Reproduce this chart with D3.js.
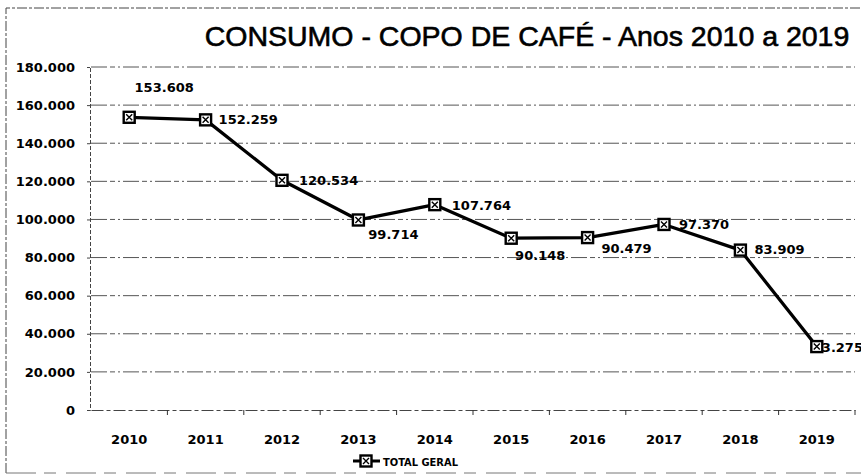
<!DOCTYPE html>
<html><head><meta charset="utf-8">
<script src="https://cdn.jsdelivr.net/npm/d3@7"></script>
<style>body{margin:0;background:#fff}svg{display:block}</style>
</head><body>
<svg id="c" width="861" height="475"></svg>
<script>
const years = ["2010","2011","2012","2013","2014","2015","2016","2017","2018","2019"];
const totalGeral = [153608,152259,120534,99714,107764,90148,90479,97370,83909,33275];
const valueLabels = ["153.608","152.259","120.534","99.714","107.764","90.148","90.479","97.370","83.909","33.275"];
const yTicks = [0,20000,40000,60000,80000,100000,120000,140000,160000,180000];
const yTickLabels = ["0","20.000","40.000","60.000","80.000","100.000","120.000","140.000","160.000","180.000"];
const title = "CONSUMO - COPO DE CAFÉ - Anos 2010 a 2019";
const seriesName = "TOTAL GERAL";
// label placement (style): dx, dy, anchor
const labelPos = [[35,-25,"middle"],[13,4,"start"],[17,5,"start"],[35,19,"middle"],[17,5,"start"],[29,22,"middle"],[39,15,"middle"],[15,5,"start"],[14,4,"start"],[-4,5,"start"]];

const svg = d3.select("#c");
const M = {l:91, r:855, t:67, b:410};
const x = d3.scaleBand().domain(years).range([M.l, M.r]);
const y = d3.scaleLinear().domain([0,180000]).range([M.b, M.t]);
const fontNum = "'DejaVu Sans', sans-serif";

// outer border
svg.append("path").attr("d","M6,473 L6,8 L861,8").attr("fill","none")
  .attr("stroke","#444").attr("stroke-width",1).attr("stroke-dasharray","10,2,3,2");
svg.append("line").attr("x1",6).attr("x2",861).attr("y1",473).attr("y2",473)
  .attr("stroke","#777").attr("stroke-dasharray","30,8,12,10");

// title
svg.append("text").attr("x",527).attr("y",46).attr("text-anchor","middle")
  .attr("font-family","'Liberation Sans', Arial, sans-serif").attr("font-size",28.5)
  .attr("fill","#000").attr("stroke","#000").attr("stroke-width",0.6).text(title);

// grid lines
svg.append("g").selectAll("line").data(yTicks.filter(d=>d>0)).join("line")
  .attr("x1",M.l).attr("x2",M.r).attr("y1",d=>y(d)).attr("y2",d=>y(d))
  .attr("stroke","#555").attr("stroke-width",1).attr("stroke-dasharray","16,3,5,3,2,3");

// y axis
const yAxis = d3.axisLeft(y).tickValues(yTicks).tickSize(3)
  .tickFormat((d,i)=>yTickLabels[i]);
const gy = svg.append("g").attr("transform",`translate(${M.l-1},0)`).call(yAxis);
gy.select(".domain").attr("stroke","#444").attr("stroke-dasharray","4,2");
gy.selectAll(".tick line").attr("stroke","#444");
gy.selectAll(".tick text").attr("x",-15).attr("font-family",fontNum).attr("font-weight","bold")
  .attr("font-size",13).attr("fill","#000");

// x axis
const xAxis = d3.axisBottom(x).tickSize(0);
const gx = svg.append("g").attr("transform",`translate(0,${M.b})`).call(xAxis);
gx.select(".domain").attr("stroke","#444").attr("stroke-dasharray","12,3,4,3");
gx.selectAll(".tick text").attr("dy",0).attr("y",34).attr("font-family",fontNum)
  .attr("font-weight","bold").attr("font-size",13).attr("fill","#000");
// boundary tick marks
svg.append("g").selectAll("line").data(years.slice(1).concat(["end"])).join("line")
  .attr("x1",d=>d==="end"?M.r:x(d)).attr("x2",d=>d==="end"?M.r:x(d))
  .attr("y1",M.b).attr("y2",M.b+5).attr("stroke","#333");

// line
const cx = d => x(d) + x.bandwidth()/2;
svg.append("path").datum(totalGeral)
  .attr("d", d3.line().x((d,i)=>cx(years[i])).y(d=>y(d)))
  .attr("fill","none").attr("stroke","#000").attr("stroke-width",3.3).attr("stroke-linejoin","round");

// value labels
svg.append("g").selectAll("text").data(totalGeral).join("text")
  .attr("x",(d,i)=>cx(years[i])+labelPos[i][0])
  .attr("y",(d,i)=>y(d)+labelPos[i][1])
  .attr("text-anchor",(d,i)=>labelPos[i][2])
  .attr("font-family",fontNum).attr("font-weight","bold").attr("font-size",13).attr("fill","#000")
  .text((d,i)=>valueLabels[i]);

function marker(g, px, py){
  g.append("rect").attr("x",px-5.5).attr("y",py-5.5).attr("width",11).attr("height",11)
    .attr("fill","#fff").attr("stroke","#000").attr("stroke-width",2.4);
  g.append("path").attr("d",`M${px-3},${py-3}L${px+3},${py+3}M${px+3},${py-3}L${px-3},${py+3}`)
    .attr("stroke","#000").attr("stroke-width",1.4);
}
const mg = svg.append("g");
totalGeral.forEach((v,i)=>marker(mg, cx(years[i]), y(v)));

// legend
const lg = svg.append("g");
lg.append("line").attr("x1",353).attr("x2",380).attr("y1",461).attr("y2",461)
  .attr("stroke","#000").attr("stroke-width",3);
marker(lg, 366, 461);
lg.append("text").attr("x",383).attr("y",465.5)
  .attr("font-family","'Liberation Sans Narrow', 'DejaVu Sans Condensed', sans-serif")
  .attr("font-weight","bold").attr("font-size",11).attr("fill","#000").text(seriesName);
</script>
</body></html>
